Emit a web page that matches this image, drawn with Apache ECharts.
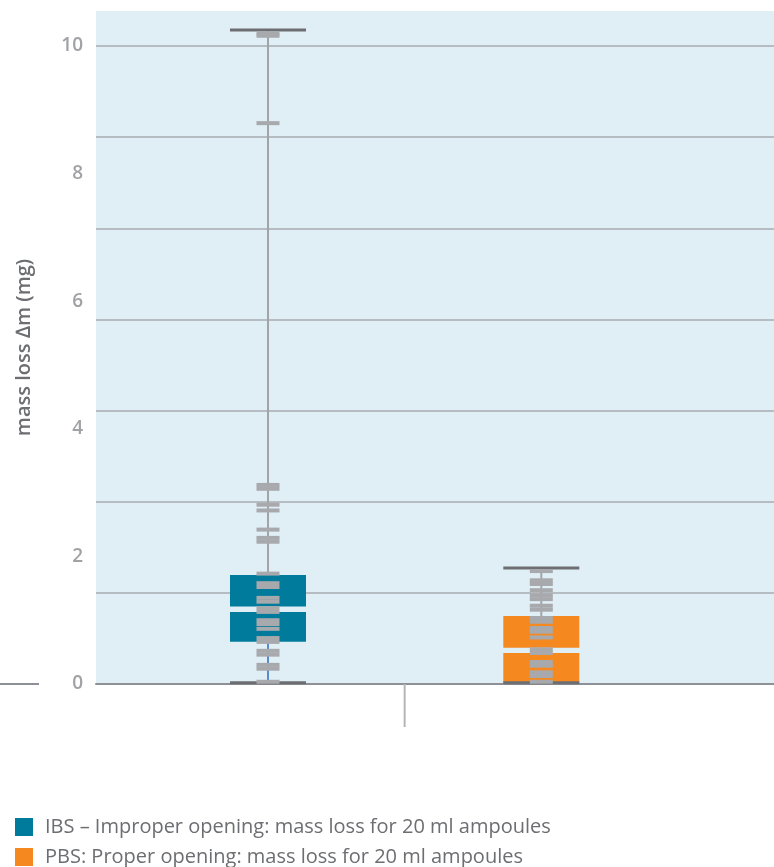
<!DOCTYPE html>
<html>
<head>
<meta charset="utf-8">
<script src="https://cdn.jsdelivr.net/npm/echarts@6/dist/echarts.min.js"></script>
<style>
  html, body { margin: 0; padding: 0; background: #ffffff; }
  #chart { width: 774px; height: 867px; }
</style>
</head>
<body>
<div id="chart"></div>
<script>
// Groups and their horizontal slots
const groupNames = [
  'IBS – Improper opening: mass loss for 20 ml ampoules',
  'PBS: Proper opening: mass loss for 20 ml ampoules'
];
const groupX = [1, 2];
const groupColors = ['#007b9b', '#f5891f'];

// Box statistics per group: [min, Q1, median, Q3, max] in mg
const ibsBox = [0.02, 0.663, 1.171, 1.708, 10.25];
const pbsBox = [0.02, 0.02, 0.527, 1.066, 1.82];

// Individual measurements (mg)
const ibsPoints = [10.20, 10.16, 8.79, 3.12, 3.06, 2.81, 2.72, 2.42, 2.29, 2.23,
  1.73, 1.58, 1.52, 1.35, 1.29, 1.19, 1.13, 1.00, 0.94, 0.865, 0.72, 0.66,
  0.52, 0.46, 0.30, 0.24, 0.035];
const pbsPoints = [1.77, 1.625, 1.567, 1.47, 1.39, 1.33, 1.227, 1.165, 1.034, 0.976,
  0.878, 0.82, 0.73, 0.544, 0.486, 0.345, 0.287, 0.183, 0.125, 0.035];

// Divider between the two groups on the category line
const dividerX = [1.5];

// Value axis
const yMin = 0;
const yMax = 10.548;
const yLabelStep = 2;
const yGridStep = 10 / 7;

const chart = echarts.init(document.getElementById('chart'));

function renderBox(params, api) {
  const x = api.value(0);
  const c = (v) => api.coord([x, v]);
  const xc = c(api.value(1))[0];
  const pMin = c(api.value(1))[1];
  const pQ1 = c(api.value(2))[1];
  const pMed = c(api.value(3))[1];
  const pQ3 = c(api.value(4))[1];
  const pMax = c(api.value(5))[1];
  const half = 38, gap = 2.7;
  const color = api.visual('color');
  const children = [
    { type: 'line', shape: { x1: xc, y1: pQ3, x2: xc, y2: pMax }, style: { stroke: '#a2a4a8', lineWidth: 2 } },
    { type: 'line', shape: { x1: xc, y1: pMin, x2: xc, y2: pQ1 }, style: { stroke: '#5b8bcb', lineWidth: 2 } },
    { type: 'rect', shape: { x: xc - half, y: pQ3, width: 2 * half, height: pMed - gap - pQ3 }, style: { fill: color } },
    { type: 'rect', shape: { x: xc - half, y: pMed + gap, width: 2 * half, height: pQ1 - pMed - gap }, style: { fill: color } },
    { type: 'line', shape: { x1: xc - half, y1: pMax, x2: xc + half, y2: pMax }, style: { stroke: '#6d6e71', lineWidth: 3 } },
    { type: 'line', shape: { x1: xc - half, y1: pMin, x2: xc + half, y2: pMin }, style: { stroke: '#6d6e71', lineWidth: 3 } }
  ];
  return { type: 'group', children: children };
}

function renderDivider(params, api) {
  const p = api.coord([api.value(0), yMin]);
  return {
    type: 'line',
    shape: { x1: p[0], y1: p[1], x2: p[0], y2: p[1] + 43 },
    style: { stroke: '#b4b5b7', lineWidth: 2 }
  };
}

const boxSeries = [ibsBox, pbsBox].map((b, i) => ({
  name: groupNames[i],
  type: 'custom',
  renderItem: renderBox,
  itemStyle: { color: groupColors[i] },
  encode: { x: 0, y: [1, 2, 3, 4, 5] },
  data: [[groupX[i]].concat(b)],
  z: 2,
  silent: true
}));

const pointSeries = [ibsPoints, pbsPoints].map((pts, i) => ({
  name: groupNames[i] + ' values',
  type: 'scatter',
  symbol: 'rect',
  symbolSize: [23, 4],
  itemStyle: { color: '#a7a9ac', opacity: 1 },
  data: pts.map(v => [groupX[i], v]),
  z: 3,
  silent: true,
  emphasis: { disabled: true }
}));

// One legend row per group, stacked under the plot
const legendRows = groupNames.map((name, i) => ({
  data: [name],
  orient: 'horizontal',
  left: 15, top: 817 + i * 30,
  padding: 0,
  icon: 'rect',
  itemWidth: 18, itemHeight: 18,
  selectedMode: false,
  textStyle: { fontFamily: 'Open Sans', fontSize: 20, color: '#6d6e71', padding: [0, 0, 0, 7] }
}));

chart.setOption({
  animation: false,
  backgroundColor: '#ffffff',
  grid: {
    left: 96, right: 0, top: 11, bottom: 183,
    show: true, backgroundColor: '#e0eef6', borderWidth: 0
  },
  xAxis: {
    type: 'value',
    min: 0.3707, max: 2.8514,
    axisLine: { show: true, lineStyle: { color: '#8d9094', width: 2 } },
    axisTick: { show: false },
    axisLabel: { show: false },
    splitLine: { show: false }
  },
  yAxis: [
    {
      type: 'value',
      min: yMin, max: yMax, interval: yLabelStep,
      position: 'left',
      axisLine: { show: false },
      axisTick: { show: false },
      splitLine: { show: false },
      axisLabel: {
        showMaxLabel: false,
        margin: 13,
        fontFamily: 'Open Sans',
        fontSize: 19,
        fontWeight: 600,
        color: '#a0a2a6',
        padding: [7, 0, 0, 0]
      },
      name: 'mass loss \u2206m (mg)',
      nameLocation: 'middle',
      nameGap: 62,
      nameTextStyle: {
        fontFamily: 'Open Sans',
        fontSize: 20,
        fontWeight: 600,
        color: '#6d6e71'
      }
    },
    {
      type: 'value',
      min: yMin, max: yMax, interval: yGridStep,
      position: 'left',
      axisLine: { show: false },
      axisTick: { show: false },
      axisLabel: { show: false },
      splitLine: {
        show: true,
        showMinLine: false,
        showMaxLine: false,
        lineStyle: { color: '#a8acb0', width: 1.5 }
      }
    }
  ],
  legend: legendRows,
  graphic: [
    {
      type: 'line',
      shape: { x1: 0, y1: 684, x2: 39, y2: 684 },
      style: { stroke: '#8d9094', lineWidth: 2 }
    }
  ],
  series: boxSeries.concat(pointSeries).concat([{
    name: 'divider',
    type: 'custom',
    renderItem: renderDivider,
    clip: false,
    silent: true,
    encode: { x: 0 },
    data: dividerX.map(v => [v]),
    z: 1
  }])
});
</script>
</body>
</html>
